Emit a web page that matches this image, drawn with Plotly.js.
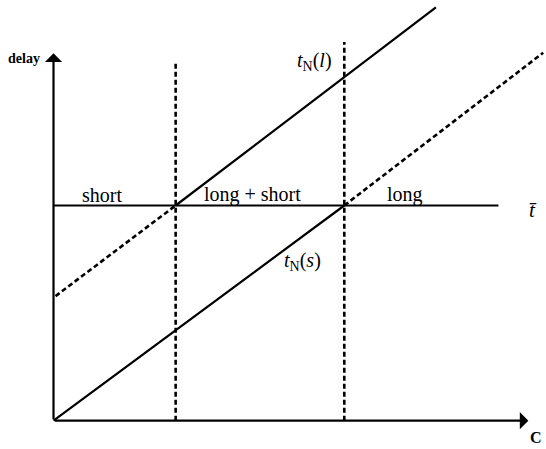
<!DOCTYPE html>
<html>
<head>
<meta charset="utf-8">
<script src="https://cdn.plot.ly/plotly-3.0.1.min.js"></script>
<style>
  html, body { margin: 0; padding: 0; background: #fff; }
  #plot { width: 546px; height: 449px; }
</style>
</head>
<body>
<div id="plot"></div>
<script>
// schematic: C1, C2 thresholds and t-bar level
var c1 = 4.2;
var c2 = 10;
var tbar = 10;

// t_N(s): solid up to C2, dashed above
var tsSolidX = [0, 10];
var tsSolidY = [0, 10];
var tsDashX = [10, 16.84];
var tsDashY = [10, 17.1];

// t_N(l): dashed below C1, solid above
var tlSolidX = [4.2, 13.15];
var tlSolidY = [10, 19.21];
var tlDashX = [0.07, 4.2];
var tlDashY = [5.79, 10];

// horizontal t-bar line and vertical dashed tops
var tbarX = [0, 15.3];
var c1Top = 16.68;
var c2Top = 17.6;

// axis tips
var xTip = 16.33;
var yTip = 17.07;

var regionNames = ['short', 'long + short', 'long'];
var regionX = [1.66, 6.86, 12.09];
var regionY = 10.49;

var solid = {color: '#000', width: 2.2};
var dashed = {color: '#000', width: 2.6, dash: '5px,3px'};

function seg(x, y, line) {
  return {x: x, y: y, type: 'scatter', mode: 'lines', line: line, hoverinfo: 'skip'};
}

var data = [
  seg(tsSolidX, tsSolidY, solid),
  seg(tsDashX, tsDashY, dashed),
  seg(tlSolidX, tlSolidY, solid),
  seg(tlDashX, tlDashY, dashed),
  seg(tbarX, [tbar, tbar], solid),
  seg([c1, c1], [0, c1Top], dashed),
  seg([c2, c2], [0, c2Top], dashed)
];

var serif = 'Liberation Serif, Times New Roman, serif';

var annotations = [
  // axes with arrowheads
  {x: xTip, y: 0, ax: 0, ay: 0, axref: 'x', ayref: 'y', xref: 'x', yref: 'y',
   showarrow: true, arrowhead: 1, arrowsize: 1.3, arrowwidth: 2.2, arrowcolor: '#000', text: ''},
  {x: 0, y: yTip, ax: 0, ay: 0, axref: 'x', ayref: 'y', xref: 'x', yref: 'y',
   showarrow: true, arrowhead: 1, arrowsize: 1.3, arrowwidth: 2.2, arrowcolor: '#000', text: ''},
  {x: -1.0, y: 16.81, text: '<b>delay</b>', showarrow: false, font: {family: serif, size: 14, color: '#000'}},
  {x: 16.58, y: -0.78, text: '<b>C</b>', showarrow: false, font: {family: serif, size: 16, color: '#000'}},
  {x: 16.5, y: 9.79, text: '<i>t\u0304</i>', showarrow: false, font: {family: serif, size: 21, color: '#000'}},
  {x: 8.99, y: 16.67, text: '<i>t</i><sub>N</sub>(<i>l</i>)', showarrow: false, font: {family: serif, size: 20, color: '#000'}},
  {x: 8.55, y: 7.42, text: '<i>t</i><sub>N</sub>(<i>s</i>)', showarrow: false, font: {family: serif, size: 20, color: '#000'}}
];

for (var i = 0; i < regionNames.length; i++) {
  annotations.push({x: regionX[i], y: regionY, text: regionNames[i], showarrow: false,
    font: {family: serif, size: 20, color: '#000'}});
}

var layout = {
  width: 546,
  height: 449,
  margin: {l: 0, r: 0, t: 0, b: 0},
  paper_bgcolor: '#fff',
  plot_bgcolor: '#fff',
  showlegend: false,
  xaxis: {range: [-1.84, 16.936], visible: false, fixedrange: true},
  yaxis: {range: [-1.315, 19.549], visible: false, fixedrange: true},
  annotations: annotations
};

Plotly.newPlot('plot', data, layout, {staticPlot: true});
</script>
</body>
</html>
